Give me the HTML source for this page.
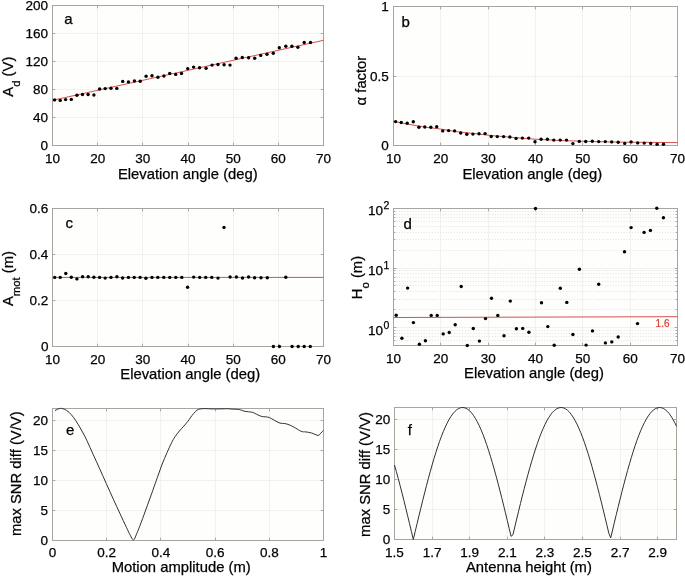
<!DOCTYPE html>
<html><head><meta charset="utf-8"><style>
html,body{margin:0;padding:0;background:#fff;width:685px;height:577px;overflow:hidden}
svg{display:block;will-change:transform}
text{font-family:"Liberation Sans", sans-serif;fill:#000;stroke:#000;stroke-width:0.25px}
</style></head><body>
<svg width="685" height="577" viewBox="0 0 685 577">
<rect x="52.5" y="5.5" width="271" height="140" fill="#fefefd"/>
<line x1="97.5" y1="5.5" x2="97.5" y2="145.5" stroke="#f2f1ef"/>
<line x1="142.5" y1="5.5" x2="142.5" y2="145.5" stroke="#f2f1ef"/>
<line x1="188.5" y1="5.5" x2="188.5" y2="145.5" stroke="#f2f1ef"/>
<line x1="233.5" y1="5.5" x2="233.5" y2="145.5" stroke="#f2f1ef"/>
<line x1="278.5" y1="5.5" x2="278.5" y2="145.5" stroke="#f2f1ef"/>
<line x1="52.5" y1="117.5" x2="323.5" y2="117.5" stroke="#f2f1ef"/>
<line x1="52.5" y1="89.5" x2="323.5" y2="89.5" stroke="#f2f1ef"/>
<line x1="52.5" y1="61.5" x2="323.5" y2="61.5" stroke="#f2f1ef"/>
<line x1="52.5" y1="33.5" x2="323.5" y2="33.5" stroke="#f2f1ef"/>
<line x1="52.5" y1="145.5" x2="52.5" y2="142.7" stroke="#a8a5a1"/>
<line x1="52.5" y1="5.5" x2="52.5" y2="8.3" stroke="#a8a5a1"/>
<line x1="97.5" y1="145.5" x2="97.5" y2="142.7" stroke="#a8a5a1"/>
<line x1="97.5" y1="5.5" x2="97.5" y2="8.3" stroke="#a8a5a1"/>
<line x1="142.5" y1="145.5" x2="142.5" y2="142.7" stroke="#a8a5a1"/>
<line x1="142.5" y1="5.5" x2="142.5" y2="8.3" stroke="#a8a5a1"/>
<line x1="188.5" y1="145.5" x2="188.5" y2="142.7" stroke="#a8a5a1"/>
<line x1="188.5" y1="5.5" x2="188.5" y2="8.3" stroke="#a8a5a1"/>
<line x1="233.5" y1="145.5" x2="233.5" y2="142.7" stroke="#a8a5a1"/>
<line x1="233.5" y1="5.5" x2="233.5" y2="8.3" stroke="#a8a5a1"/>
<line x1="278.5" y1="145.5" x2="278.5" y2="142.7" stroke="#a8a5a1"/>
<line x1="278.5" y1="5.5" x2="278.5" y2="8.3" stroke="#a8a5a1"/>
<line x1="323.5" y1="145.5" x2="323.5" y2="142.7" stroke="#a8a5a1"/>
<line x1="323.5" y1="5.5" x2="323.5" y2="8.3" stroke="#a8a5a1"/>
<line x1="52.5" y1="145.5" x2="55.3" y2="145.5" stroke="#a8a5a1"/>
<line x1="323.5" y1="145.5" x2="320.7" y2="145.5" stroke="#a8a5a1"/>
<line x1="52.5" y1="117.5" x2="55.3" y2="117.5" stroke="#a8a5a1"/>
<line x1="323.5" y1="117.5" x2="320.7" y2="117.5" stroke="#a8a5a1"/>
<line x1="52.5" y1="89.5" x2="55.3" y2="89.5" stroke="#a8a5a1"/>
<line x1="323.5" y1="89.5" x2="320.7" y2="89.5" stroke="#a8a5a1"/>
<line x1="52.5" y1="61.5" x2="55.3" y2="61.5" stroke="#a8a5a1"/>
<line x1="323.5" y1="61.5" x2="320.7" y2="61.5" stroke="#a8a5a1"/>
<line x1="52.5" y1="33.5" x2="55.3" y2="33.5" stroke="#a8a5a1"/>
<line x1="323.5" y1="33.5" x2="320.7" y2="33.5" stroke="#a8a5a1"/>
<line x1="52.5" y1="5.5" x2="55.3" y2="5.5" stroke="#a8a5a1"/>
<line x1="323.5" y1="5.5" x2="320.7" y2="5.5" stroke="#a8a5a1"/>
<rect x="52.5" y="5.5" width="271" height="140" fill="none" stroke="#a8a5a1"/>
<line x1="52.5" y1="100.3" x2="323.5" y2="40.3" stroke="#d8504f"/>
<g fill="#000"><circle cx="54.6" cy="99.9" r="1.7"/><circle cx="60.2" cy="100.4" r="1.7"/><circle cx="65.6" cy="99.6" r="1.7"/><circle cx="71.3" cy="99.4" r="1.7"/><circle cx="76.9" cy="95.3" r="1.7"/><circle cx="82.5" cy="94.5" r="1.7"/><circle cx="88.1" cy="94.5" r="1.7"/><circle cx="93.9" cy="95.0" r="1.7"/><circle cx="99.6" cy="89.0" r="1.7"/><circle cx="105.2" cy="88.6" r="1.7"/><circle cx="111.0" cy="88.2" r="1.7"/><circle cx="116.8" cy="88.4" r="1.7"/><circle cx="122.7" cy="81.4" r="1.7"/><circle cx="128.4" cy="81.9" r="1.7"/><circle cx="134.4" cy="81.0" r="1.7"/><circle cx="140.2" cy="81.3" r="1.7"/><circle cx="146.1" cy="76.3" r="1.7"/><circle cx="152.0" cy="75.7" r="1.7"/><circle cx="157.9" cy="77.2" r="1.7"/><circle cx="163.9" cy="76.0" r="1.7"/><circle cx="169.7" cy="73.5" r="1.7"/><circle cx="175.7" cy="74.4" r="1.7"/><circle cx="181.5" cy="73.5" r="1.7"/><circle cx="187.7" cy="68.6" r="1.7"/><circle cx="193.6" cy="67.1" r="1.7"/><circle cx="199.6" cy="67.7" r="1.7"/><circle cx="206.1" cy="68.3" r="1.7"/><circle cx="212.1" cy="65.1" r="1.7"/><circle cx="218.0" cy="64.5" r="1.7"/><circle cx="224.1" cy="64.7" r="1.7"/><circle cx="230.0" cy="65.1" r="1.7"/><circle cx="236.1" cy="58.3" r="1.7"/><circle cx="242.3" cy="57.5" r="1.7"/><circle cx="248.6" cy="57.7" r="1.7"/><circle cx="254.7" cy="58.3" r="1.7"/><circle cx="260.7" cy="55.4" r="1.7"/><circle cx="267.0" cy="54.3" r="1.7"/><circle cx="273.3" cy="53.3" r="1.7"/><circle cx="279.3" cy="47.7" r="1.7"/><circle cx="285.8" cy="46.3" r="1.7"/><circle cx="291.9" cy="46.3" r="1.7"/><circle cx="297.9" cy="47.3" r="1.7"/><circle cx="304.2" cy="42.5" r="1.7"/><circle cx="310.5" cy="42.5" r="1.7"/></g>
<text x="52.5" y="162.8" font-size="13.5" text-anchor="middle">10</text>
<text x="97.67" y="162.8" font-size="13.5" text-anchor="middle">20</text>
<text x="142.83" y="162.8" font-size="13.5" text-anchor="middle">30</text>
<text x="188" y="162.8" font-size="13.5" text-anchor="middle">40</text>
<text x="233.17" y="162.8" font-size="13.5" text-anchor="middle">50</text>
<text x="278.33" y="162.8" font-size="13.5" text-anchor="middle">60</text>
<text x="323.5" y="162.8" font-size="13.5" text-anchor="middle">70</text>
<text x="48" y="150" font-size="13.5" text-anchor="end">0</text>
<text x="48" y="122" font-size="13.5" text-anchor="end">40</text>
<text x="48" y="94" font-size="13.5" text-anchor="end">80</text>
<text x="48" y="66" font-size="13.5" text-anchor="end">120</text>
<text x="48" y="38" font-size="13.5" text-anchor="end">160</text>
<text x="48" y="10" font-size="13.5" text-anchor="end">200</text>
<text x="117.9" y="178.5" font-size="14.8">Elevation angle (deg)</text>
<text transform="translate(12.6,96.7) rotate(-90)" font-size="14.8">A<tspan font-size="11.3" dy="7.0">d</tspan><tspan dy="-7.0"> (V)</tspan></text>
<text x="64.2" y="23.9" font-size="15">a</text>
<rect x="393.5" y="6.5" width="284" height="139" fill="#fefefd"/>
<line x1="440.5" y1="6.5" x2="440.5" y2="145.5" stroke="#f2f1ef"/>
<line x1="488.5" y1="6.5" x2="488.5" y2="145.5" stroke="#f2f1ef"/>
<line x1="535.5" y1="6.5" x2="535.5" y2="145.5" stroke="#f2f1ef"/>
<line x1="582.5" y1="6.5" x2="582.5" y2="145.5" stroke="#f2f1ef"/>
<line x1="630.5" y1="6.5" x2="630.5" y2="145.5" stroke="#f2f1ef"/>
<line x1="393.5" y1="76.5" x2="677.5" y2="76.5" stroke="#f2f1ef"/>
<line x1="393.5" y1="145.5" x2="393.5" y2="142.7" stroke="#a8a5a1"/>
<line x1="393.5" y1="6.5" x2="393.5" y2="9.3" stroke="#a8a5a1"/>
<line x1="440.5" y1="145.5" x2="440.5" y2="142.7" stroke="#a8a5a1"/>
<line x1="440.5" y1="6.5" x2="440.5" y2="9.3" stroke="#a8a5a1"/>
<line x1="488.5" y1="145.5" x2="488.5" y2="142.7" stroke="#a8a5a1"/>
<line x1="488.5" y1="6.5" x2="488.5" y2="9.3" stroke="#a8a5a1"/>
<line x1="535.5" y1="145.5" x2="535.5" y2="142.7" stroke="#a8a5a1"/>
<line x1="535.5" y1="6.5" x2="535.5" y2="9.3" stroke="#a8a5a1"/>
<line x1="582.5" y1="145.5" x2="582.5" y2="142.7" stroke="#a8a5a1"/>
<line x1="582.5" y1="6.5" x2="582.5" y2="9.3" stroke="#a8a5a1"/>
<line x1="630.5" y1="145.5" x2="630.5" y2="142.7" stroke="#a8a5a1"/>
<line x1="630.5" y1="6.5" x2="630.5" y2="9.3" stroke="#a8a5a1"/>
<line x1="677.5" y1="145.5" x2="677.5" y2="142.7" stroke="#a8a5a1"/>
<line x1="677.5" y1="6.5" x2="677.5" y2="9.3" stroke="#a8a5a1"/>
<line x1="393.5" y1="145.5" x2="396.3" y2="145.5" stroke="#a8a5a1"/>
<line x1="677.5" y1="145.5" x2="674.7" y2="145.5" stroke="#a8a5a1"/>
<line x1="393.5" y1="76.5" x2="396.3" y2="76.5" stroke="#a8a5a1"/>
<line x1="677.5" y1="76.5" x2="674.7" y2="76.5" stroke="#a8a5a1"/>
<line x1="393.5" y1="6.5" x2="396.3" y2="6.5" stroke="#a8a5a1"/>
<line x1="677.5" y1="6.5" x2="674.7" y2="6.5" stroke="#a8a5a1"/>
<rect x="393.5" y="6.5" width="284" height="139" fill="none" stroke="#a8a5a1"/>
<polyline fill="none" stroke="#d8504f" stroke-width="1" stroke-linejoin="round" points="393.50,121.40 410.00,124.50 425.00,127.10 440.30,129.00 456.00,131.60 473.00,133.40 490.00,135.40 510.00,137.20 535.00,139.20 560.00,140.50 590.00,141.50 620.00,142.10 650.00,142.40 677.50,142.60"/>
<g fill="#000"><circle cx="395.6" cy="121.6" r="1.7"/><circle cx="401.2" cy="122.5" r="1.7"/><circle cx="407.2" cy="123.3" r="1.7"/><circle cx="413.3" cy="121.7" r="1.7"/><circle cx="418.9" cy="127.2" r="1.7"/><circle cx="424.8" cy="127.0" r="1.7"/><circle cx="430.8" cy="127.2" r="1.7"/><circle cx="436.7" cy="126.7" r="1.7"/><circle cx="442.7" cy="130.9" r="1.7"/><circle cx="448.6" cy="130.6" r="1.7"/><circle cx="454.6" cy="130.9" r="1.7"/><circle cx="460.7" cy="133.0" r="1.7"/><circle cx="466.8" cy="134.2" r="1.7"/><circle cx="472.9" cy="134.1" r="1.7"/><circle cx="479.0" cy="133.8" r="1.7"/><circle cx="485.1" cy="133.6" r="1.7"/><circle cx="491.2" cy="136.5" r="1.7"/><circle cx="497.3" cy="136.6" r="1.7"/><circle cx="503.6" cy="136.6" r="1.7"/><circle cx="509.9" cy="137.0" r="1.7"/><circle cx="516.1" cy="138.4" r="1.7"/><circle cx="522.4" cy="138.1" r="1.7"/><circle cx="528.7" cy="138.1" r="1.7"/><circle cx="535.0" cy="141.7" r="1.7"/><circle cx="541.1" cy="139.2" r="1.7"/><circle cx="547.4" cy="139.2" r="1.7"/><circle cx="553.8" cy="140.1" r="1.7"/><circle cx="560.2" cy="140.1" r="1.7"/><circle cx="566.5" cy="140.1" r="1.7"/><circle cx="572.9" cy="143.6" r="1.7"/><circle cx="579.3" cy="141.4" r="1.7"/><circle cx="585.7" cy="141.5" r="1.7"/><circle cx="592.3" cy="141.2" r="1.7"/><circle cx="598.7" cy="141.6" r="1.7"/><circle cx="605.3" cy="141.6" r="1.7"/><circle cx="611.7" cy="141.9" r="1.7"/><circle cx="618.2" cy="142.3" r="1.7"/><circle cx="624.7" cy="143.4" r="1.7"/><circle cx="631.1" cy="141.9" r="1.7"/><circle cx="637.7" cy="142.9" r="1.7"/><circle cx="644.2" cy="143.1" r="1.7"/><circle cx="650.7" cy="143.4" r="1.7"/><circle cx="657.1" cy="144.2" r="1.7"/><circle cx="663.5" cy="144.2" r="1.7"/></g>
<text x="393.5" y="162.8" font-size="13.5" text-anchor="middle">10</text>
<text x="440.83" y="162.8" font-size="13.5" text-anchor="middle">20</text>
<text x="488.17" y="162.8" font-size="13.5" text-anchor="middle">30</text>
<text x="535.5" y="162.8" font-size="13.5" text-anchor="middle">40</text>
<text x="582.83" y="162.8" font-size="13.5" text-anchor="middle">50</text>
<text x="630.17" y="162.8" font-size="13.5" text-anchor="middle">60</text>
<text x="677.5" y="162.8" font-size="13.5" text-anchor="middle">70</text>
<text x="388.8" y="150" font-size="13.5" text-anchor="end">0</text>
<text x="388.8" y="80.5" font-size="13.5" text-anchor="end">0.5</text>
<text x="388.8" y="11" font-size="13.5" text-anchor="end">1</text>
<text x="462.4" y="179.0" font-size="14.8">Elevation angle (deg)</text>
<text transform="translate(366.0,105.4) rotate(-90)" font-size="14.8">α factor</text>
<text x="401.5" y="26.6" font-size="15">b</text>
<rect x="52.5" y="208.5" width="271" height="138" fill="#fefefd"/>
<line x1="97.5" y1="208.5" x2="97.5" y2="346.5" stroke="#f2f1ef"/>
<line x1="142.5" y1="208.5" x2="142.5" y2="346.5" stroke="#f2f1ef"/>
<line x1="188.5" y1="208.5" x2="188.5" y2="346.5" stroke="#f2f1ef"/>
<line x1="233.5" y1="208.5" x2="233.5" y2="346.5" stroke="#f2f1ef"/>
<line x1="278.5" y1="208.5" x2="278.5" y2="346.5" stroke="#f2f1ef"/>
<line x1="52.5" y1="300.5" x2="323.5" y2="300.5" stroke="#f2f1ef"/>
<line x1="52.5" y1="254.5" x2="323.5" y2="254.5" stroke="#f2f1ef"/>
<line x1="52.5" y1="346.5" x2="52.5" y2="343.7" stroke="#a8a5a1"/>
<line x1="52.5" y1="208.5" x2="52.5" y2="211.3" stroke="#a8a5a1"/>
<line x1="97.5" y1="346.5" x2="97.5" y2="343.7" stroke="#a8a5a1"/>
<line x1="97.5" y1="208.5" x2="97.5" y2="211.3" stroke="#a8a5a1"/>
<line x1="142.5" y1="346.5" x2="142.5" y2="343.7" stroke="#a8a5a1"/>
<line x1="142.5" y1="208.5" x2="142.5" y2="211.3" stroke="#a8a5a1"/>
<line x1="188.5" y1="346.5" x2="188.5" y2="343.7" stroke="#a8a5a1"/>
<line x1="188.5" y1="208.5" x2="188.5" y2="211.3" stroke="#a8a5a1"/>
<line x1="233.5" y1="346.5" x2="233.5" y2="343.7" stroke="#a8a5a1"/>
<line x1="233.5" y1="208.5" x2="233.5" y2="211.3" stroke="#a8a5a1"/>
<line x1="278.5" y1="346.5" x2="278.5" y2="343.7" stroke="#a8a5a1"/>
<line x1="278.5" y1="208.5" x2="278.5" y2="211.3" stroke="#a8a5a1"/>
<line x1="323.5" y1="346.5" x2="323.5" y2="343.7" stroke="#a8a5a1"/>
<line x1="323.5" y1="208.5" x2="323.5" y2="211.3" stroke="#a8a5a1"/>
<line x1="52.5" y1="346.5" x2="55.3" y2="346.5" stroke="#a8a5a1"/>
<line x1="323.5" y1="346.5" x2="320.7" y2="346.5" stroke="#a8a5a1"/>
<line x1="52.5" y1="300.5" x2="55.3" y2="300.5" stroke="#a8a5a1"/>
<line x1="323.5" y1="300.5" x2="320.7" y2="300.5" stroke="#a8a5a1"/>
<line x1="52.5" y1="254.5" x2="55.3" y2="254.5" stroke="#a8a5a1"/>
<line x1="323.5" y1="254.5" x2="320.7" y2="254.5" stroke="#a8a5a1"/>
<line x1="52.5" y1="208.5" x2="55.3" y2="208.5" stroke="#a8a5a1"/>
<line x1="323.5" y1="208.5" x2="320.7" y2="208.5" stroke="#a8a5a1"/>
<rect x="52.5" y="208.5" width="271" height="138" fill="none" stroke="#a8a5a1"/>
<line x1="52.5" y1="277.4" x2="323.5" y2="277.4" stroke="#d8504f"/>
<g fill="#000"><circle cx="54.7" cy="277.4" r="1.7"/><circle cx="60.2" cy="277.4" r="1.7"/><circle cx="65.8" cy="273.5" r="1.7"/><circle cx="71.3" cy="277.3" r="1.7"/><circle cx="76.9" cy="278.9" r="1.7"/><circle cx="82.6" cy="276.7" r="1.7"/><circle cx="88.2" cy="276.8" r="1.7"/><circle cx="93.9" cy="277.3" r="1.7"/><circle cx="99.6" cy="277.4" r="1.7"/><circle cx="105.2" cy="278.1" r="1.7"/><circle cx="111.0" cy="277.4" r="1.7"/><circle cx="116.9" cy="276.7" r="1.7"/><circle cx="122.6" cy="278.0" r="1.7"/><circle cx="128.4" cy="277.4" r="1.7"/><circle cx="134.2" cy="277.4" r="1.7"/><circle cx="140.1" cy="277.4" r="1.7"/><circle cx="145.9" cy="278.2" r="1.7"/><circle cx="152.0" cy="277.4" r="1.7"/><circle cx="157.8" cy="277.4" r="1.7"/><circle cx="163.8" cy="277.4" r="1.7"/><circle cx="169.8" cy="277.4" r="1.7"/><circle cx="175.8" cy="277.4" r="1.7"/><circle cx="181.8" cy="277.4" r="1.7"/><circle cx="187.6" cy="287.3" r="1.7"/><circle cx="193.7" cy="277.1" r="1.7"/><circle cx="199.7" cy="277.4" r="1.7"/><circle cx="205.7" cy="277.4" r="1.7"/><circle cx="211.8" cy="277.4" r="1.7"/><circle cx="218.0" cy="278.1" r="1.7"/><circle cx="224.0" cy="227.4" r="1.7"/><circle cx="230.1" cy="277.0" r="1.7"/><circle cx="236.4" cy="277.0" r="1.7"/><circle cx="242.5" cy="278.0" r="1.7"/><circle cx="248.6" cy="277.0" r="1.7"/><circle cx="254.6" cy="277.7" r="1.7"/><circle cx="261.0" cy="277.7" r="1.7"/><circle cx="267.3" cy="277.7" r="1.7"/><circle cx="273.4" cy="346.5" r="1.7"/><circle cx="279.4" cy="346.5" r="1.7"/><circle cx="285.8" cy="277.3" r="1.7"/><circle cx="292.1" cy="346.5" r="1.7"/><circle cx="298.2" cy="346.5" r="1.7"/><circle cx="304.2" cy="346.5" r="1.7"/><circle cx="310.3" cy="346.5" r="1.7"/></g>
<text x="52.5" y="363.8" font-size="13.5" text-anchor="middle">10</text>
<text x="97.67" y="363.8" font-size="13.5" text-anchor="middle">20</text>
<text x="142.83" y="363.8" font-size="13.5" text-anchor="middle">30</text>
<text x="188" y="363.8" font-size="13.5" text-anchor="middle">40</text>
<text x="233.17" y="363.8" font-size="13.5" text-anchor="middle">50</text>
<text x="278.33" y="363.8" font-size="13.5" text-anchor="middle">60</text>
<text x="323.5" y="363.8" font-size="13.5" text-anchor="middle">70</text>
<text x="48.4" y="351" font-size="13.5" text-anchor="end">0</text>
<text x="48.4" y="305" font-size="13.5" text-anchor="end">0.2</text>
<text x="48.4" y="259" font-size="13.5" text-anchor="end">0.4</text>
<text x="48.4" y="213" font-size="13.5" text-anchor="end">0.6</text>
<text x="120.3" y="378.7" font-size="14.8">Elevation angle (deg)</text>
<text transform="translate(12.9,306.1) rotate(-90)" font-size="14.8">A<tspan font-size="11.3" dy="7.0">mot</tspan><tspan dy="-7.0"> (m)</tspan></text>
<text x="65.4" y="227.6" font-size="15">c</text>
<rect x="393.5" y="208.5" width="284" height="137" fill="#fefefd"/>
<line x1="440.5" y1="208.5" x2="440.5" y2="345.5" stroke="#f2f1ef"/>
<line x1="488.5" y1="208.5" x2="488.5" y2="345.5" stroke="#f2f1ef"/>
<line x1="535.5" y1="208.5" x2="535.5" y2="345.5" stroke="#f2f1ef"/>
<line x1="582.5" y1="208.5" x2="582.5" y2="345.5" stroke="#f2f1ef"/>
<line x1="630.5" y1="208.5" x2="630.5" y2="345.5" stroke="#f2f1ef"/>
<line x1="393.5" y1="340.5" x2="677.5" y2="340.5" stroke="#e4e2df" stroke-dasharray="1 1.74"/>
<line x1="393.5" y1="336.5" x2="677.5" y2="336.5" stroke="#e4e2df" stroke-dasharray="1 1.74"/>
<line x1="393.5" y1="333.5" x2="677.5" y2="333.5" stroke="#e4e2df" stroke-dasharray="1 1.74"/>
<line x1="393.5" y1="330.5" x2="677.5" y2="330.5" stroke="#e4e2df" stroke-dasharray="1 1.74"/>
<line x1="393.5" y1="309.5" x2="677.5" y2="309.5" stroke="#e4e2df" stroke-dasharray="1 1.74"/>
<line x1="393.5" y1="299.5" x2="677.5" y2="299.5" stroke="#e4e2df" stroke-dasharray="1 1.74"/>
<line x1="393.5" y1="291.5" x2="677.5" y2="291.5" stroke="#e4e2df" stroke-dasharray="1 1.74"/>
<line x1="393.5" y1="285.5" x2="677.5" y2="285.5" stroke="#e4e2df" stroke-dasharray="1 1.74"/>
<line x1="393.5" y1="281.5" x2="677.5" y2="281.5" stroke="#e4e2df" stroke-dasharray="1 1.74"/>
<line x1="393.5" y1="277.5" x2="677.5" y2="277.5" stroke="#e4e2df" stroke-dasharray="1 1.74"/>
<line x1="393.5" y1="273.5" x2="677.5" y2="273.5" stroke="#e4e2df" stroke-dasharray="1 1.74"/>
<line x1="393.5" y1="270.5" x2="677.5" y2="270.5" stroke="#e4e2df" stroke-dasharray="1 1.74"/>
<line x1="393.5" y1="250.5" x2="677.5" y2="250.5" stroke="#e4e2df" stroke-dasharray="1 1.74"/>
<line x1="393.5" y1="239.5" x2="677.5" y2="239.5" stroke="#e4e2df" stroke-dasharray="1 1.74"/>
<line x1="393.5" y1="232.5" x2="677.5" y2="232.5" stroke="#e4e2df" stroke-dasharray="1 1.74"/>
<line x1="393.5" y1="226.5" x2="677.5" y2="226.5" stroke="#e4e2df" stroke-dasharray="1 1.74"/>
<line x1="393.5" y1="221.5" x2="677.5" y2="221.5" stroke="#e4e2df" stroke-dasharray="1 1.74"/>
<line x1="393.5" y1="217.5" x2="677.5" y2="217.5" stroke="#e4e2df" stroke-dasharray="1 1.74"/>
<line x1="393.5" y1="214.5" x2="677.5" y2="214.5" stroke="#e4e2df" stroke-dasharray="1 1.74"/>
<line x1="393.5" y1="211.5" x2="677.5" y2="211.5" stroke="#e4e2df" stroke-dasharray="1 1.74"/>
<line x1="393.5" y1="327.5" x2="677.5" y2="327.5" stroke="#f2f1ef"/>
<line x1="393.5" y1="268.5" x2="677.5" y2="268.5" stroke="#f2f1ef"/>
<line x1="393.5" y1="345.5" x2="393.5" y2="342.7" stroke="#a8a5a1"/>
<line x1="393.5" y1="208.5" x2="393.5" y2="211.3" stroke="#a8a5a1"/>
<line x1="440.5" y1="345.5" x2="440.5" y2="342.7" stroke="#a8a5a1"/>
<line x1="440.5" y1="208.5" x2="440.5" y2="211.3" stroke="#a8a5a1"/>
<line x1="488.5" y1="345.5" x2="488.5" y2="342.7" stroke="#a8a5a1"/>
<line x1="488.5" y1="208.5" x2="488.5" y2="211.3" stroke="#a8a5a1"/>
<line x1="535.5" y1="345.5" x2="535.5" y2="342.7" stroke="#a8a5a1"/>
<line x1="535.5" y1="208.5" x2="535.5" y2="211.3" stroke="#a8a5a1"/>
<line x1="582.5" y1="345.5" x2="582.5" y2="342.7" stroke="#a8a5a1"/>
<line x1="582.5" y1="208.5" x2="582.5" y2="211.3" stroke="#a8a5a1"/>
<line x1="630.5" y1="345.5" x2="630.5" y2="342.7" stroke="#a8a5a1"/>
<line x1="630.5" y1="208.5" x2="630.5" y2="211.3" stroke="#a8a5a1"/>
<line x1="677.5" y1="345.5" x2="677.5" y2="342.7" stroke="#a8a5a1"/>
<line x1="677.5" y1="208.5" x2="677.5" y2="211.3" stroke="#a8a5a1"/>
<line x1="393.5" y1="327.5" x2="396.3" y2="327.5" stroke="#a8a5a1"/>
<line x1="677.5" y1="327.5" x2="674.7" y2="327.5" stroke="#a8a5a1"/>
<line x1="393.5" y1="268.5" x2="396.3" y2="268.5" stroke="#a8a5a1"/>
<line x1="677.5" y1="268.5" x2="674.7" y2="268.5" stroke="#a8a5a1"/>
<line x1="393.5" y1="208.5" x2="396.3" y2="208.5" stroke="#a8a5a1"/>
<line x1="677.5" y1="208.5" x2="674.7" y2="208.5" stroke="#a8a5a1"/>
<line x1="393.5" y1="345.5" x2="395.3" y2="345.5" stroke="#a8a5a1"/>
<line x1="677.5" y1="345.5" x2="675.7" y2="345.5" stroke="#a8a5a1"/>
<line x1="393.5" y1="340.5" x2="395.3" y2="340.5" stroke="#a8a5a1"/>
<line x1="677.5" y1="340.5" x2="675.7" y2="340.5" stroke="#a8a5a1"/>
<line x1="393.5" y1="336.5" x2="395.3" y2="336.5" stroke="#a8a5a1"/>
<line x1="677.5" y1="336.5" x2="675.7" y2="336.5" stroke="#a8a5a1"/>
<line x1="393.5" y1="333.5" x2="395.3" y2="333.5" stroke="#a8a5a1"/>
<line x1="677.5" y1="333.5" x2="675.7" y2="333.5" stroke="#a8a5a1"/>
<line x1="393.5" y1="330.5" x2="395.3" y2="330.5" stroke="#a8a5a1"/>
<line x1="677.5" y1="330.5" x2="675.7" y2="330.5" stroke="#a8a5a1"/>
<line x1="393.5" y1="309.5" x2="395.3" y2="309.5" stroke="#a8a5a1"/>
<line x1="677.5" y1="309.5" x2="675.7" y2="309.5" stroke="#a8a5a1"/>
<line x1="393.5" y1="299.5" x2="395.3" y2="299.5" stroke="#a8a5a1"/>
<line x1="677.5" y1="299.5" x2="675.7" y2="299.5" stroke="#a8a5a1"/>
<line x1="393.5" y1="291.5" x2="395.3" y2="291.5" stroke="#a8a5a1"/>
<line x1="677.5" y1="291.5" x2="675.7" y2="291.5" stroke="#a8a5a1"/>
<line x1="393.5" y1="285.5" x2="395.3" y2="285.5" stroke="#a8a5a1"/>
<line x1="677.5" y1="285.5" x2="675.7" y2="285.5" stroke="#a8a5a1"/>
<line x1="393.5" y1="281.5" x2="395.3" y2="281.5" stroke="#a8a5a1"/>
<line x1="677.5" y1="281.5" x2="675.7" y2="281.5" stroke="#a8a5a1"/>
<line x1="393.5" y1="277.5" x2="395.3" y2="277.5" stroke="#a8a5a1"/>
<line x1="677.5" y1="277.5" x2="675.7" y2="277.5" stroke="#a8a5a1"/>
<line x1="393.5" y1="273.5" x2="395.3" y2="273.5" stroke="#a8a5a1"/>
<line x1="677.5" y1="273.5" x2="675.7" y2="273.5" stroke="#a8a5a1"/>
<line x1="393.5" y1="270.5" x2="395.3" y2="270.5" stroke="#a8a5a1"/>
<line x1="677.5" y1="270.5" x2="675.7" y2="270.5" stroke="#a8a5a1"/>
<line x1="393.5" y1="250.5" x2="395.3" y2="250.5" stroke="#a8a5a1"/>
<line x1="677.5" y1="250.5" x2="675.7" y2="250.5" stroke="#a8a5a1"/>
<line x1="393.5" y1="239.5" x2="395.3" y2="239.5" stroke="#a8a5a1"/>
<line x1="677.5" y1="239.5" x2="675.7" y2="239.5" stroke="#a8a5a1"/>
<line x1="393.5" y1="232.5" x2="395.3" y2="232.5" stroke="#a8a5a1"/>
<line x1="677.5" y1="232.5" x2="675.7" y2="232.5" stroke="#a8a5a1"/>
<line x1="393.5" y1="226.5" x2="395.3" y2="226.5" stroke="#a8a5a1"/>
<line x1="677.5" y1="226.5" x2="675.7" y2="226.5" stroke="#a8a5a1"/>
<line x1="393.5" y1="221.5" x2="395.3" y2="221.5" stroke="#a8a5a1"/>
<line x1="677.5" y1="221.5" x2="675.7" y2="221.5" stroke="#a8a5a1"/>
<line x1="393.5" y1="217.5" x2="395.3" y2="217.5" stroke="#a8a5a1"/>
<line x1="677.5" y1="217.5" x2="675.7" y2="217.5" stroke="#a8a5a1"/>
<line x1="393.5" y1="214.5" x2="395.3" y2="214.5" stroke="#a8a5a1"/>
<line x1="677.5" y1="214.5" x2="675.7" y2="214.5" stroke="#a8a5a1"/>
<line x1="393.5" y1="211.5" x2="395.3" y2="211.5" stroke="#a8a5a1"/>
<line x1="677.5" y1="211.5" x2="675.7" y2="211.5" stroke="#a8a5a1"/>
<rect x="393.5" y="208.5" width="284" height="137" fill="none" stroke="#a8a5a1"/>
<line x1="393.5" y1="317.5" x2="677.5" y2="316.7" stroke="#d8504f"/>
<text x="655.6" y="326.5" font-size="10" style="fill:#dc3a30;stroke:#dc3a30;stroke-width:0.2px">1.6</text>
<g fill="#000"><circle cx="396.2" cy="315.3" r="1.7"/><circle cx="401.9" cy="338.2" r="1.7"/><circle cx="407.6" cy="288.1" r="1.7"/><circle cx="413.4" cy="322.6" r="1.7"/><circle cx="419.4" cy="344.2" r="1.7"/><circle cx="425.4" cy="340.7" r="1.7"/><circle cx="431.2" cy="315.4" r="1.7"/><circle cx="437.2" cy="315.4" r="1.7"/><circle cx="443.2" cy="333.9" r="1.7"/><circle cx="449.2" cy="332.5" r="1.7"/><circle cx="455.2" cy="324.7" r="1.7"/><circle cx="461.2" cy="286.5" r="1.7"/><circle cx="467.3" cy="345.5" r="1.7"/><circle cx="473.3" cy="328.5" r="1.7"/><circle cx="479.4" cy="341.1" r="1.7"/><circle cx="485.5" cy="318.6" r="1.7"/><circle cx="491.5" cy="298.3" r="1.7"/><circle cx="497.8" cy="315.4" r="1.7"/><circle cx="504.0" cy="335.7" r="1.7"/><circle cx="510.3" cy="301.1" r="1.7"/><circle cx="516.4" cy="328.8" r="1.7"/><circle cx="522.7" cy="328.4" r="1.7"/><circle cx="528.9" cy="332.3" r="1.7"/><circle cx="535.5" cy="208.5" r="1.7"/><circle cx="541.5" cy="302.7" r="1.7"/><circle cx="547.8" cy="326.6" r="1.7"/><circle cx="554.2" cy="345.2" r="1.7"/><circle cx="560.3" cy="288.2" r="1.7"/><circle cx="566.8" cy="302.4" r="1.7"/><circle cx="572.9" cy="334.5" r="1.7"/><circle cx="579.4" cy="269.3" r="1.7"/><circle cx="586.1" cy="345.1" r="1.7"/><circle cx="592.5" cy="330.9" r="1.7"/><circle cx="598.7" cy="284.3" r="1.7"/><circle cx="605.4" cy="342.9" r="1.7"/><circle cx="611.8" cy="341.9" r="1.7"/><circle cx="618.2" cy="337.0" r="1.7"/><circle cx="624.5" cy="251.8" r="1.7"/><circle cx="631.1" cy="227.6" r="1.7"/><circle cx="637.5" cy="323.6" r="1.7"/><circle cx="644.1" cy="232.4" r="1.7"/><circle cx="650.4" cy="230.4" r="1.7"/><circle cx="656.8" cy="208.2" r="1.7"/><circle cx="663.4" cy="217.7" r="1.7"/></g>
<text x="393.5" y="362.6" font-size="13.5" text-anchor="middle">10</text>
<text x="440.83" y="362.6" font-size="13.5" text-anchor="middle">20</text>
<text x="488.17" y="362.6" font-size="13.5" text-anchor="middle">30</text>
<text x="535.5" y="362.6" font-size="13.5" text-anchor="middle">40</text>
<text x="582.83" y="362.6" font-size="13.5" text-anchor="middle">50</text>
<text x="630.17" y="362.6" font-size="13.5" text-anchor="middle">60</text>
<text x="677.5" y="362.6" font-size="13.5" text-anchor="middle">70</text>
<text x="368" y="214.8" font-size="13.5">10</text>
<text x="383.4" y="208.7" font-size="10.5">2</text>
<text x="368" y="275.0" font-size="13.5">10</text>
<text x="383.4" y="268.5" font-size="10.5">1</text>
<text x="368" y="335.0" font-size="13.5">10</text>
<text x="383.4" y="328.7" font-size="10.5">0</text>
<text x="464.1" y="377.7" font-size="14.8">Elevation angle (deg)</text>
<text transform="translate(361.9,299.2) rotate(-90)" font-size="14.8">H<tspan font-size="11.3" dy="7.0">o</tspan><tspan dy="-7.0"> (m)</tspan></text>
<text x="403.5" y="229.4" font-size="15">d</text>
<rect x="52.5" y="408.5" width="271" height="132" fill="#fefefd"/>
<line x1="106.5" y1="408.5" x2="106.5" y2="540.5" stroke="#f2f1ef"/>
<line x1="160.5" y1="408.5" x2="160.5" y2="540.5" stroke="#f2f1ef"/>
<line x1="215.5" y1="408.5" x2="215.5" y2="540.5" stroke="#f2f1ef"/>
<line x1="269.5" y1="408.5" x2="269.5" y2="540.5" stroke="#f2f1ef"/>
<line x1="52.5" y1="510.5" x2="323.5" y2="510.5" stroke="#f2f1ef"/>
<line x1="52.5" y1="480.5" x2="323.5" y2="480.5" stroke="#f2f1ef"/>
<line x1="52.5" y1="450.5" x2="323.5" y2="450.5" stroke="#f2f1ef"/>
<line x1="52.5" y1="420.5" x2="323.5" y2="420.5" stroke="#f2f1ef"/>
<line x1="52.5" y1="540.5" x2="52.5" y2="537.7" stroke="#a8a5a1"/>
<line x1="52.5" y1="408.5" x2="52.5" y2="411.3" stroke="#a8a5a1"/>
<line x1="106.5" y1="540.5" x2="106.5" y2="537.7" stroke="#a8a5a1"/>
<line x1="106.5" y1="408.5" x2="106.5" y2="411.3" stroke="#a8a5a1"/>
<line x1="160.5" y1="540.5" x2="160.5" y2="537.7" stroke="#a8a5a1"/>
<line x1="160.5" y1="408.5" x2="160.5" y2="411.3" stroke="#a8a5a1"/>
<line x1="215.5" y1="540.5" x2="215.5" y2="537.7" stroke="#a8a5a1"/>
<line x1="215.5" y1="408.5" x2="215.5" y2="411.3" stroke="#a8a5a1"/>
<line x1="269.5" y1="540.5" x2="269.5" y2="537.7" stroke="#a8a5a1"/>
<line x1="269.5" y1="408.5" x2="269.5" y2="411.3" stroke="#a8a5a1"/>
<line x1="323.5" y1="540.5" x2="323.5" y2="537.7" stroke="#a8a5a1"/>
<line x1="323.5" y1="408.5" x2="323.5" y2="411.3" stroke="#a8a5a1"/>
<line x1="52.5" y1="540.5" x2="55.3" y2="540.5" stroke="#a8a5a1"/>
<line x1="323.5" y1="540.5" x2="320.7" y2="540.5" stroke="#a8a5a1"/>
<line x1="52.5" y1="510.5" x2="55.3" y2="510.5" stroke="#a8a5a1"/>
<line x1="323.5" y1="510.5" x2="320.7" y2="510.5" stroke="#a8a5a1"/>
<line x1="52.5" y1="480.5" x2="55.3" y2="480.5" stroke="#a8a5a1"/>
<line x1="323.5" y1="480.5" x2="320.7" y2="480.5" stroke="#a8a5a1"/>
<line x1="52.5" y1="450.5" x2="55.3" y2="450.5" stroke="#a8a5a1"/>
<line x1="323.5" y1="450.5" x2="320.7" y2="450.5" stroke="#a8a5a1"/>
<line x1="52.5" y1="420.5" x2="55.3" y2="420.5" stroke="#a8a5a1"/>
<line x1="323.5" y1="420.5" x2="320.7" y2="420.5" stroke="#a8a5a1"/>
<rect x="52.5" y="408.5" width="271" height="132" fill="none" stroke="#a8a5a1"/>
<path d="M55.00,410.60 C55.42,410.37 56.72,409.55 57.50,409.20 C58.28,408.85 59.05,408.63 59.70,408.50 C60.35,408.37 60.60,408.27 61.40,408.40 C62.20,408.53 63.23,408.65 64.50,409.30 C65.77,409.95 67.50,410.95 69.00,412.30 C70.50,413.65 72.00,415.42 73.50,417.40 C75.00,419.38 76.50,421.77 78.00,424.20 C79.50,426.63 81.00,429.23 82.50,432.00 C84.00,434.77 85.22,437.05 87.00,440.80 C88.78,444.55 91.13,449.95 93.20,454.50 C95.27,459.05 97.22,463.25 99.40,468.10 C101.58,472.95 103.98,478.43 106.30,483.60 C108.62,488.77 111.05,494.17 113.30,499.10 C115.55,504.03 117.62,508.50 119.80,513.20 C121.98,517.90 124.65,523.62 126.40,527.30 C128.15,530.98 129.12,533.18 130.30,535.30 C131.48,537.42 132.47,540.18 133.50,540.00 C134.53,539.82 135.42,536.62 136.50,534.20 C137.58,531.78 138.47,529.52 140.00,525.50 C141.53,521.48 143.57,515.95 145.70,510.10 C147.83,504.25 150.87,495.80 152.80,490.40 C154.73,485.00 155.80,481.93 157.30,477.70 C158.80,473.47 160.18,469.17 161.80,465.00 C163.42,460.83 165.37,456.42 167.00,452.70 C168.63,448.98 170.27,445.37 171.60,442.70 C172.93,440.03 173.70,438.65 175.00,436.70 C176.30,434.75 177.93,432.77 179.40,431.00 C180.87,429.23 182.43,427.65 183.80,426.10 C185.17,424.55 186.52,423.07 187.60,421.70 C188.68,420.33 189.30,419.27 190.30,417.90 C191.30,416.53 192.50,414.78 193.60,413.50 C194.70,412.22 195.80,410.97 196.90,410.20 C198.00,409.43 198.73,409.17 200.20,408.90 C201.67,408.63 203.88,408.60 205.70,408.60 C207.52,408.60 209.47,408.85 211.10,408.90 C212.73,408.95 213.85,408.90 215.50,408.90 C217.15,408.90 218.98,408.93 221.00,408.90 C223.02,408.87 225.78,408.67 227.60,408.70 C229.42,408.73 230.27,409.00 231.90,409.10 C233.53,409.20 235.93,409.17 237.40,409.30 C238.87,409.43 239.60,409.60 240.70,409.90 C241.80,410.20 242.70,410.78 244.00,411.10 C245.30,411.42 247.07,411.60 248.50,411.80 C249.93,412.00 251.23,411.88 252.60,412.30 C253.97,412.72 255.23,413.62 256.70,414.30 C258.17,414.98 259.95,415.98 261.40,416.40 C262.85,416.82 264.05,416.60 265.40,416.80 C266.75,417.00 268.03,417.03 269.50,417.60 C270.97,418.17 272.45,419.28 274.20,420.20 C275.95,421.12 278.25,422.55 280.00,423.10 C281.75,423.65 283.13,423.20 284.70,423.50 C286.27,423.80 287.83,424.28 289.40,424.90 C290.97,425.52 292.15,426.13 294.10,427.20 C296.05,428.27 299.17,430.52 301.10,431.30 C303.03,432.08 303.95,431.62 305.70,431.90 C307.45,432.18 309.55,432.42 311.60,433.00 C313.65,433.58 316.45,435.40 318.00,435.40 C319.55,435.40 319.98,433.85 320.90,433.00 C321.82,432.15 323.07,430.75 323.50,430.30" fill="none" stroke="#303030" stroke-width="1.0" stroke-linejoin="round"/>
<text x="52.5" y="557.3" font-size="13.5" text-anchor="middle">0</text>
<text x="106.7" y="557.3" font-size="13.5" text-anchor="middle">0.2</text>
<text x="160.9" y="557.3" font-size="13.5" text-anchor="middle">0.4</text>
<text x="215.1" y="557.3" font-size="13.5" text-anchor="middle">0.6</text>
<text x="269.3" y="557.3" font-size="13.5" text-anchor="middle">0.8</text>
<text x="323.5" y="557.3" font-size="13.5" text-anchor="middle">1</text>
<text x="48" y="545" font-size="13.5" text-anchor="end">0</text>
<text x="48" y="515" font-size="13.5" text-anchor="end">5</text>
<text x="48" y="485" font-size="13.5" text-anchor="end">10</text>
<text x="48" y="455" font-size="13.5" text-anchor="end">15</text>
<text x="48" y="425" font-size="13.5" text-anchor="end">20</text>
<text x="111.7" y="571.9" font-size="14.8">Motion amplitude (m)</text>
<text transform="translate(21.2,536.1) rotate(-90)" font-size="14.8">max SNR diff (V/V)</text>
<text x="66.1" y="434.9" font-size="15">e</text>
<rect x="394.5" y="407.5" width="282" height="132" fill="#fefefd"/>
<line x1="432.5" y1="407.5" x2="432.5" y2="539.5" stroke="#f2f1ef"/>
<line x1="469.5" y1="407.5" x2="469.5" y2="539.5" stroke="#f2f1ef"/>
<line x1="507.5" y1="407.5" x2="507.5" y2="539.5" stroke="#f2f1ef"/>
<line x1="544.5" y1="407.5" x2="544.5" y2="539.5" stroke="#f2f1ef"/>
<line x1="582.5" y1="407.5" x2="582.5" y2="539.5" stroke="#f2f1ef"/>
<line x1="620.5" y1="407.5" x2="620.5" y2="539.5" stroke="#f2f1ef"/>
<line x1="657.5" y1="407.5" x2="657.5" y2="539.5" stroke="#f2f1ef"/>
<line x1="394.5" y1="509.5" x2="676.5" y2="509.5" stroke="#f2f1ef"/>
<line x1="394.5" y1="479.5" x2="676.5" y2="479.5" stroke="#f2f1ef"/>
<line x1="394.5" y1="449.5" x2="676.5" y2="449.5" stroke="#f2f1ef"/>
<line x1="394.5" y1="419.5" x2="676.5" y2="419.5" stroke="#f2f1ef"/>
<line x1="394.5" y1="539.5" x2="394.5" y2="536.7" stroke="#a8a5a1"/>
<line x1="394.5" y1="407.5" x2="394.5" y2="410.3" stroke="#a8a5a1"/>
<line x1="432.5" y1="539.5" x2="432.5" y2="536.7" stroke="#a8a5a1"/>
<line x1="432.5" y1="407.5" x2="432.5" y2="410.3" stroke="#a8a5a1"/>
<line x1="469.5" y1="539.5" x2="469.5" y2="536.7" stroke="#a8a5a1"/>
<line x1="469.5" y1="407.5" x2="469.5" y2="410.3" stroke="#a8a5a1"/>
<line x1="507.5" y1="539.5" x2="507.5" y2="536.7" stroke="#a8a5a1"/>
<line x1="507.5" y1="407.5" x2="507.5" y2="410.3" stroke="#a8a5a1"/>
<line x1="544.5" y1="539.5" x2="544.5" y2="536.7" stroke="#a8a5a1"/>
<line x1="544.5" y1="407.5" x2="544.5" y2="410.3" stroke="#a8a5a1"/>
<line x1="582.5" y1="539.5" x2="582.5" y2="536.7" stroke="#a8a5a1"/>
<line x1="582.5" y1="407.5" x2="582.5" y2="410.3" stroke="#a8a5a1"/>
<line x1="620.5" y1="539.5" x2="620.5" y2="536.7" stroke="#a8a5a1"/>
<line x1="620.5" y1="407.5" x2="620.5" y2="410.3" stroke="#a8a5a1"/>
<line x1="657.5" y1="539.5" x2="657.5" y2="536.7" stroke="#a8a5a1"/>
<line x1="657.5" y1="407.5" x2="657.5" y2="410.3" stroke="#a8a5a1"/>
<line x1="394.5" y1="539.5" x2="397.3" y2="539.5" stroke="#a8a5a1"/>
<line x1="676.5" y1="539.5" x2="673.7" y2="539.5" stroke="#a8a5a1"/>
<line x1="394.5" y1="509.5" x2="397.3" y2="509.5" stroke="#a8a5a1"/>
<line x1="676.5" y1="509.5" x2="673.7" y2="509.5" stroke="#a8a5a1"/>
<line x1="394.5" y1="479.5" x2="397.3" y2="479.5" stroke="#a8a5a1"/>
<line x1="676.5" y1="479.5" x2="673.7" y2="479.5" stroke="#a8a5a1"/>
<line x1="394.5" y1="449.5" x2="397.3" y2="449.5" stroke="#a8a5a1"/>
<line x1="676.5" y1="449.5" x2="673.7" y2="449.5" stroke="#a8a5a1"/>
<line x1="394.5" y1="419.5" x2="397.3" y2="419.5" stroke="#a8a5a1"/>
<line x1="676.5" y1="419.5" x2="673.7" y2="419.5" stroke="#a8a5a1"/>
<rect x="394.5" y="407.5" width="282" height="132" fill="none" stroke="#a8a5a1"/>
<polyline fill="none" stroke="#303030" stroke-width="1.0" stroke-linejoin="round" points="394.50,465.02 396.38,471.68 398.26,478.59 400.14,485.71 402.02,493.03 403.90,500.52 405.78,508.15 407.66,515.89 409.54,523.71 411.42,531.59 413.30,539.50 415.18,531.59 417.06,523.71 418.94,515.89 420.82,508.15 422.70,500.52 424.58,493.03 426.46,485.71 428.34,478.59 430.22,471.68 432.10,465.02 433.98,458.62 435.86,452.52 437.74,446.72 439.62,441.26 441.50,436.16 443.38,431.42 445.26,427.08 447.14,423.13 449.02,419.61 450.90,416.51 452.78,413.86 454.66,411.66 456.54,409.92 458.42,408.65 460.30,407.84 462.18,407.51 464.06,407.65 465.94,408.27 467.82,409.36 469.70,410.91 471.58,412.93 473.46,415.40 475.34,418.32 477.22,421.67 479.10,425.45 480.98,429.64 482.86,434.22 484.74,439.18 486.62,444.50 488.50,450.16 490.38,456.14 492.26,462.43 494.14,468.98 496.02,475.80 497.90,482.84 499.78,490.08 501.66,497.51 503.54,505.08 505.42,512.78 507.30,520.57 509.18,528.43 511.06,536.33 512.94,534.75 514.82,526.86 516.70,519.01 518.58,511.23 520.46,503.56 522.34,496.01 524.22,488.62 526.10,481.41 527.98,474.42 529.86,467.65 531.74,461.15 533.62,454.92 535.50,449.00 537.38,443.41 539.26,438.16 541.14,433.27 543.02,428.77 544.90,424.66 546.78,420.97 548.66,417.70 550.54,414.87 552.42,412.49 554.30,410.56 556.18,409.10 558.06,408.11 559.94,407.59 561.82,407.54 563.70,407.96 565.58,408.86 567.46,410.23 569.34,412.07 571.22,414.36 573.10,417.10 574.98,420.28 576.86,423.89 578.74,427.91 580.62,432.34 582.50,437.15 584.38,442.33 586.26,447.86 588.14,453.71 590.02,459.88 591.90,466.33 593.78,473.04 595.66,480.00 597.54,487.16 599.42,494.52 601.30,502.04 603.18,509.69 605.06,517.44 606.94,525.28 608.82,533.17 610.70,537.92 612.58,530.01 614.46,522.14 616.34,514.33 618.22,506.61 620.10,499.01 621.98,491.56 623.86,484.27 625.74,477.19 627.62,470.33 629.50,463.72 631.38,457.38 633.26,451.33 635.14,445.60 637.02,440.21 638.90,435.18 640.78,430.52 642.66,426.25 644.54,422.39 646.42,418.95 648.30,415.95 650.18,413.39 652.06,411.28 653.94,409.63 655.82,408.45 657.70,407.74 659.58,407.50 661.46,407.74 663.34,408.45 665.22,409.63 667.10,411.28 668.98,413.39 670.86,415.95 672.74,418.95 674.62,422.39 676.50,426.25"/>
<text x="394.5" y="556.6" font-size="13.5" text-anchor="middle">1.5</text>
<text x="432.1" y="556.6" font-size="13.5" text-anchor="middle">1.7</text>
<text x="469.7" y="556.6" font-size="13.5" text-anchor="middle">1.9</text>
<text x="507.3" y="556.6" font-size="13.5" text-anchor="middle">2.1</text>
<text x="544.9" y="556.6" font-size="13.5" text-anchor="middle">2.3</text>
<text x="582.5" y="556.6" font-size="13.5" text-anchor="middle">2.5</text>
<text x="620.1" y="556.6" font-size="13.5" text-anchor="middle">2.7</text>
<text x="657.7" y="556.6" font-size="13.5" text-anchor="middle">2.9</text>
<text x="390.2" y="544" font-size="13.5" text-anchor="end">0</text>
<text x="390.2" y="514" font-size="13.5" text-anchor="end">5</text>
<text x="390.2" y="484" font-size="13.5" text-anchor="end">10</text>
<text x="390.2" y="454" font-size="13.5" text-anchor="end">15</text>
<text x="390.2" y="424" font-size="13.5" text-anchor="end">20</text>
<text x="466.0" y="571.8" font-size="14.8">Antenna height (m)</text>
<text transform="translate(370.1,536.9) rotate(-90)" font-size="14.8">max SNR diff (V/V)</text>
<text x="407.8" y="435.4" font-size="15">f</text>
</svg>
</body></html>
